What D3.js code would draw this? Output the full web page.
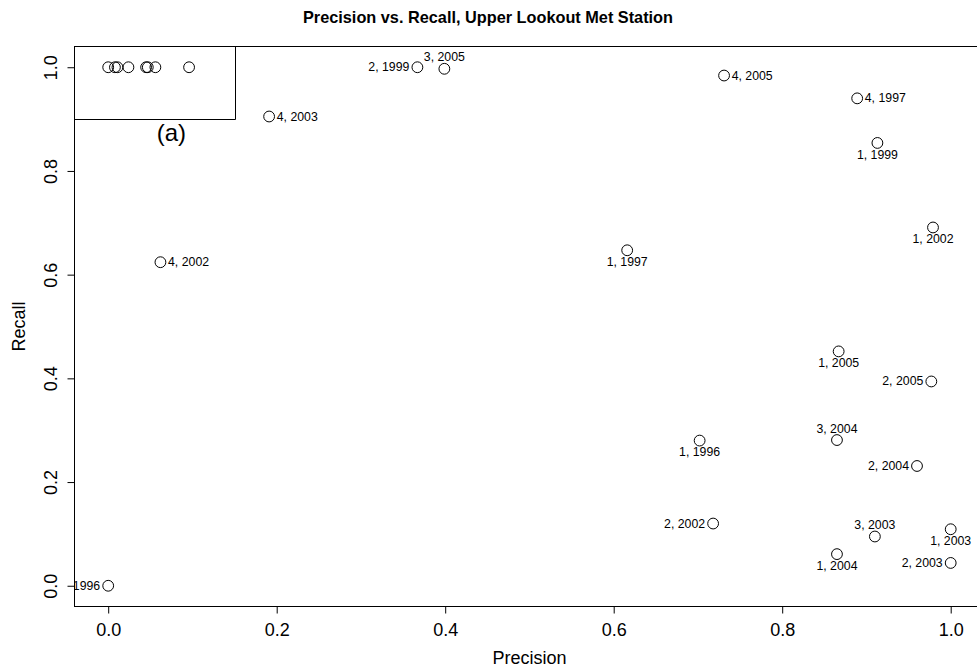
<!DOCTYPE html>
<html>
<head>
<meta charset="utf-8">
<script src="https://cdn.jsdelivr.net/npm/d3@7"></script>
<style>
  html, body { margin: 0; padding: 0; background: #fff; }
  svg { display: block; font-family: "Liberation Sans", Arial, Helvetica, sans-serif; }
</style>
</head>
<body>
<svg id="chart" width="977" height="668"></svg>
<script>
// ---- data ----
const precision = [0.000, 0.367, 0.399, 0.731, 0.889, 0.913, 0.979, 0.191, 0.062, 0.616,
                   0.867, 0.977, 0.702, 0.865, 0.960, 0.718, 0.910, 1.000, 0.865, 1.000];
const recall    = [0.000, 1.000, 0.997, 0.984, 0.940, 0.854, 0.691, 0.905, 0.624, 0.647,
                   0.452, 0.394, 0.280, 0.281, 0.231, 0.120, 0.095, 0.109, 0.061, 0.044];
const pointLabels = ["4, 1996", "2, 1999", "3, 2005", "4, 2005", "4, 1997", "1, 1999", "1, 2002",
                     "4, 2003", "4, 2002", "1, 1997", "1, 2005", "2, 2005", "1, 1996", "3, 2004",
                     "2, 2004", "2, 2002", "3, 2003", "1, 2003", "1, 2004", "2, 2003"];
const labelSide = ["left", "left", "above", "right", "right", "below", "below",
                   "right", "right", "below", "below", "left", "below", "above",
                   "left", "left", "above", "below", "below", "left"];
// unlabeled points inside region (a)
const boxPrecision = [0.000, 0.008, 0.011, 0.024, 0.045, 0.047, 0.056, 0.096];
const boxRecall    = [1.000, 1.000, 1.000, 1.000, 1.000, 1.000, 1.000, 1.000];
// region (a) corner (precision, recall)
const regionCorner = [0.15, 0.90];
const regionLabel = "(a)";
const regionLabelPos = [0.075, 0.875];
const xTicks = [0, 0.2, 0.4, 0.6, 0.8, 1.0];
const yTicks = [0, 0.2, 0.4, 0.6, 0.8, 1.0];
const titleText = "Precision vs. Recall, Upper Lookout Met Station";
const xTitle = "Precision";
const yTitle = "Recall";

// ---- layout ----
const svg = d3.select("#chart");
const pLeft = 74.5, pRight = 984.4, pTop = 46.5, pBottom = 606.5;
const x = d3.scaleLinear().domain([-0.04, 1.04]).range([pLeft, pRight]);
const y = d3.scaleLinear().domain([-0.04, 1.04]).range([pBottom, pTop]);
const font = '"Liberation Sans", Arial, Helvetica, sans-serif';

svg.append("defs").append("clipPath").attr("id", "plotclip")
  .append("rect").attr("x", pLeft).attr("y", pTop).attr("width", pRight - pLeft).attr("height", pBottom - pTop);

// title
svg.append("text").attr("x", 488).attr("y", 23).attr("text-anchor", "middle")
  .attr("font-size", 16.3).attr("font-weight", "bold").attr("fill", "#000").text(titleText);

// x axis
const gx = svg.append("g").attr("transform", `translate(0,${pBottom})`)
  .call(d3.axisBottom(x).tickValues(xTicks).tickFormat(d3.format(".1f")).tickSize(7).tickPadding(9.5));
gx.select(".domain").remove();
gx.selectAll("text").attr("font-size", 18).attr("font-family", font).attr("fill", "#000");
gx.selectAll("line").attr("stroke", "#000");

// y axis
const gy = svg.append("g").attr("transform", `translate(${pLeft},0)`)
  .call(d3.axisLeft(y).tickValues(yTicks).tickFormat(d3.format(".1f")).tickSize(7));
gy.select(".domain").remove();
gy.selectAll("line").attr("stroke", "#000");
gy.selectAll("text").attr("font-size", 18).attr("font-family", font).attr("fill", "#000")
  .attr("transform", "rotate(-90)").attr("x", 0).attr("y", -17.5).attr("dy", 0)
  .attr("text-anchor", "middle");

// axis titles
svg.append("text").attr("x", (pLeft + pRight) / 2).attr("y", 664).attr("text-anchor", "middle")
  .attr("font-size", 18).attr("fill", "#000").text(xTitle);
svg.append("text").attr("transform", `translate(25,${(pTop + pBottom) / 2}) rotate(-90)`)
  .attr("text-anchor", "middle").attr("font-size", 18).attr("fill", "#000").text(yTitle);

// plot box
svg.append("rect").attr("x", pLeft).attr("y", pTop).attr("width", pRight - pLeft).attr("height", pBottom - pTop)
  .attr("fill", "none").attr("stroke", "#000").attr("stroke-width", 1);

const plot = svg.append("g").attr("clip-path", "url(#plotclip)");

// region (a)
plot.append("path")
  .attr("d", `M${pLeft},${Math.round(y(regionCorner[1])) + 0.5}H${Math.round(x(regionCorner[0])) + 0.5}V${pTop}`)
  .attr("fill", "none").attr("stroke", "#000").attr("stroke-width", 1);
plot.append("text").attr("x", x(regionLabelPos[0])).attr("y", y(regionLabelPos[1]))
  .attr("text-anchor", "middle").attr("dominant-baseline", "central")
  .attr("font-size", 24).attr("fill", "#000").text(regionLabel);

// points
const rad = 5.4;
const pts = precision.map((p, i) => ({ p, r: recall[i], label: pointLabels[i], side: labelSide[i] }));
const boxPts = boxPrecision.map((p, i) => ({ p, r: boxRecall[i] }));

plot.selectAll("circle.bp").data(boxPts).join("circle").attr("class", "bp")
  .attr("cx", d => x(d.p)).attr("cy", d => y(d.r)).attr("r", rad)
  .attr("fill", "none").attr("stroke", "#000").attr("stroke-width", 1);

plot.selectAll("circle.lp").data(pts).join("circle").attr("class", "lp")
  .attr("cx", d => x(d.p)).attr("cy", d => y(d.r)).attr("r", rad)
  .attr("fill", "none").attr("stroke", "#000").attr("stroke-width", 1);

plot.selectAll("text.pl").data(pts).join("text").attr("class", "pl")
  .attr("font-size", 12.3).attr("fill", "#000").attr("dominant-baseline", "central")
  .attr("x", d => d.side === "left" ? x(d.p) - 8 : d.side === "right" ? x(d.p) + 7.6 : x(d.p))
  .attr("y", d => d.side === "below" ? y(d.r) + 11.6 : d.side === "above" ? y(d.r) - 11.3 : y(d.r))
  .attr("text-anchor", d => d.side === "left" ? "end" : d.side === "right" ? "start" : "middle")
  .text(d => d.label);
</script>
</body>
</html>
